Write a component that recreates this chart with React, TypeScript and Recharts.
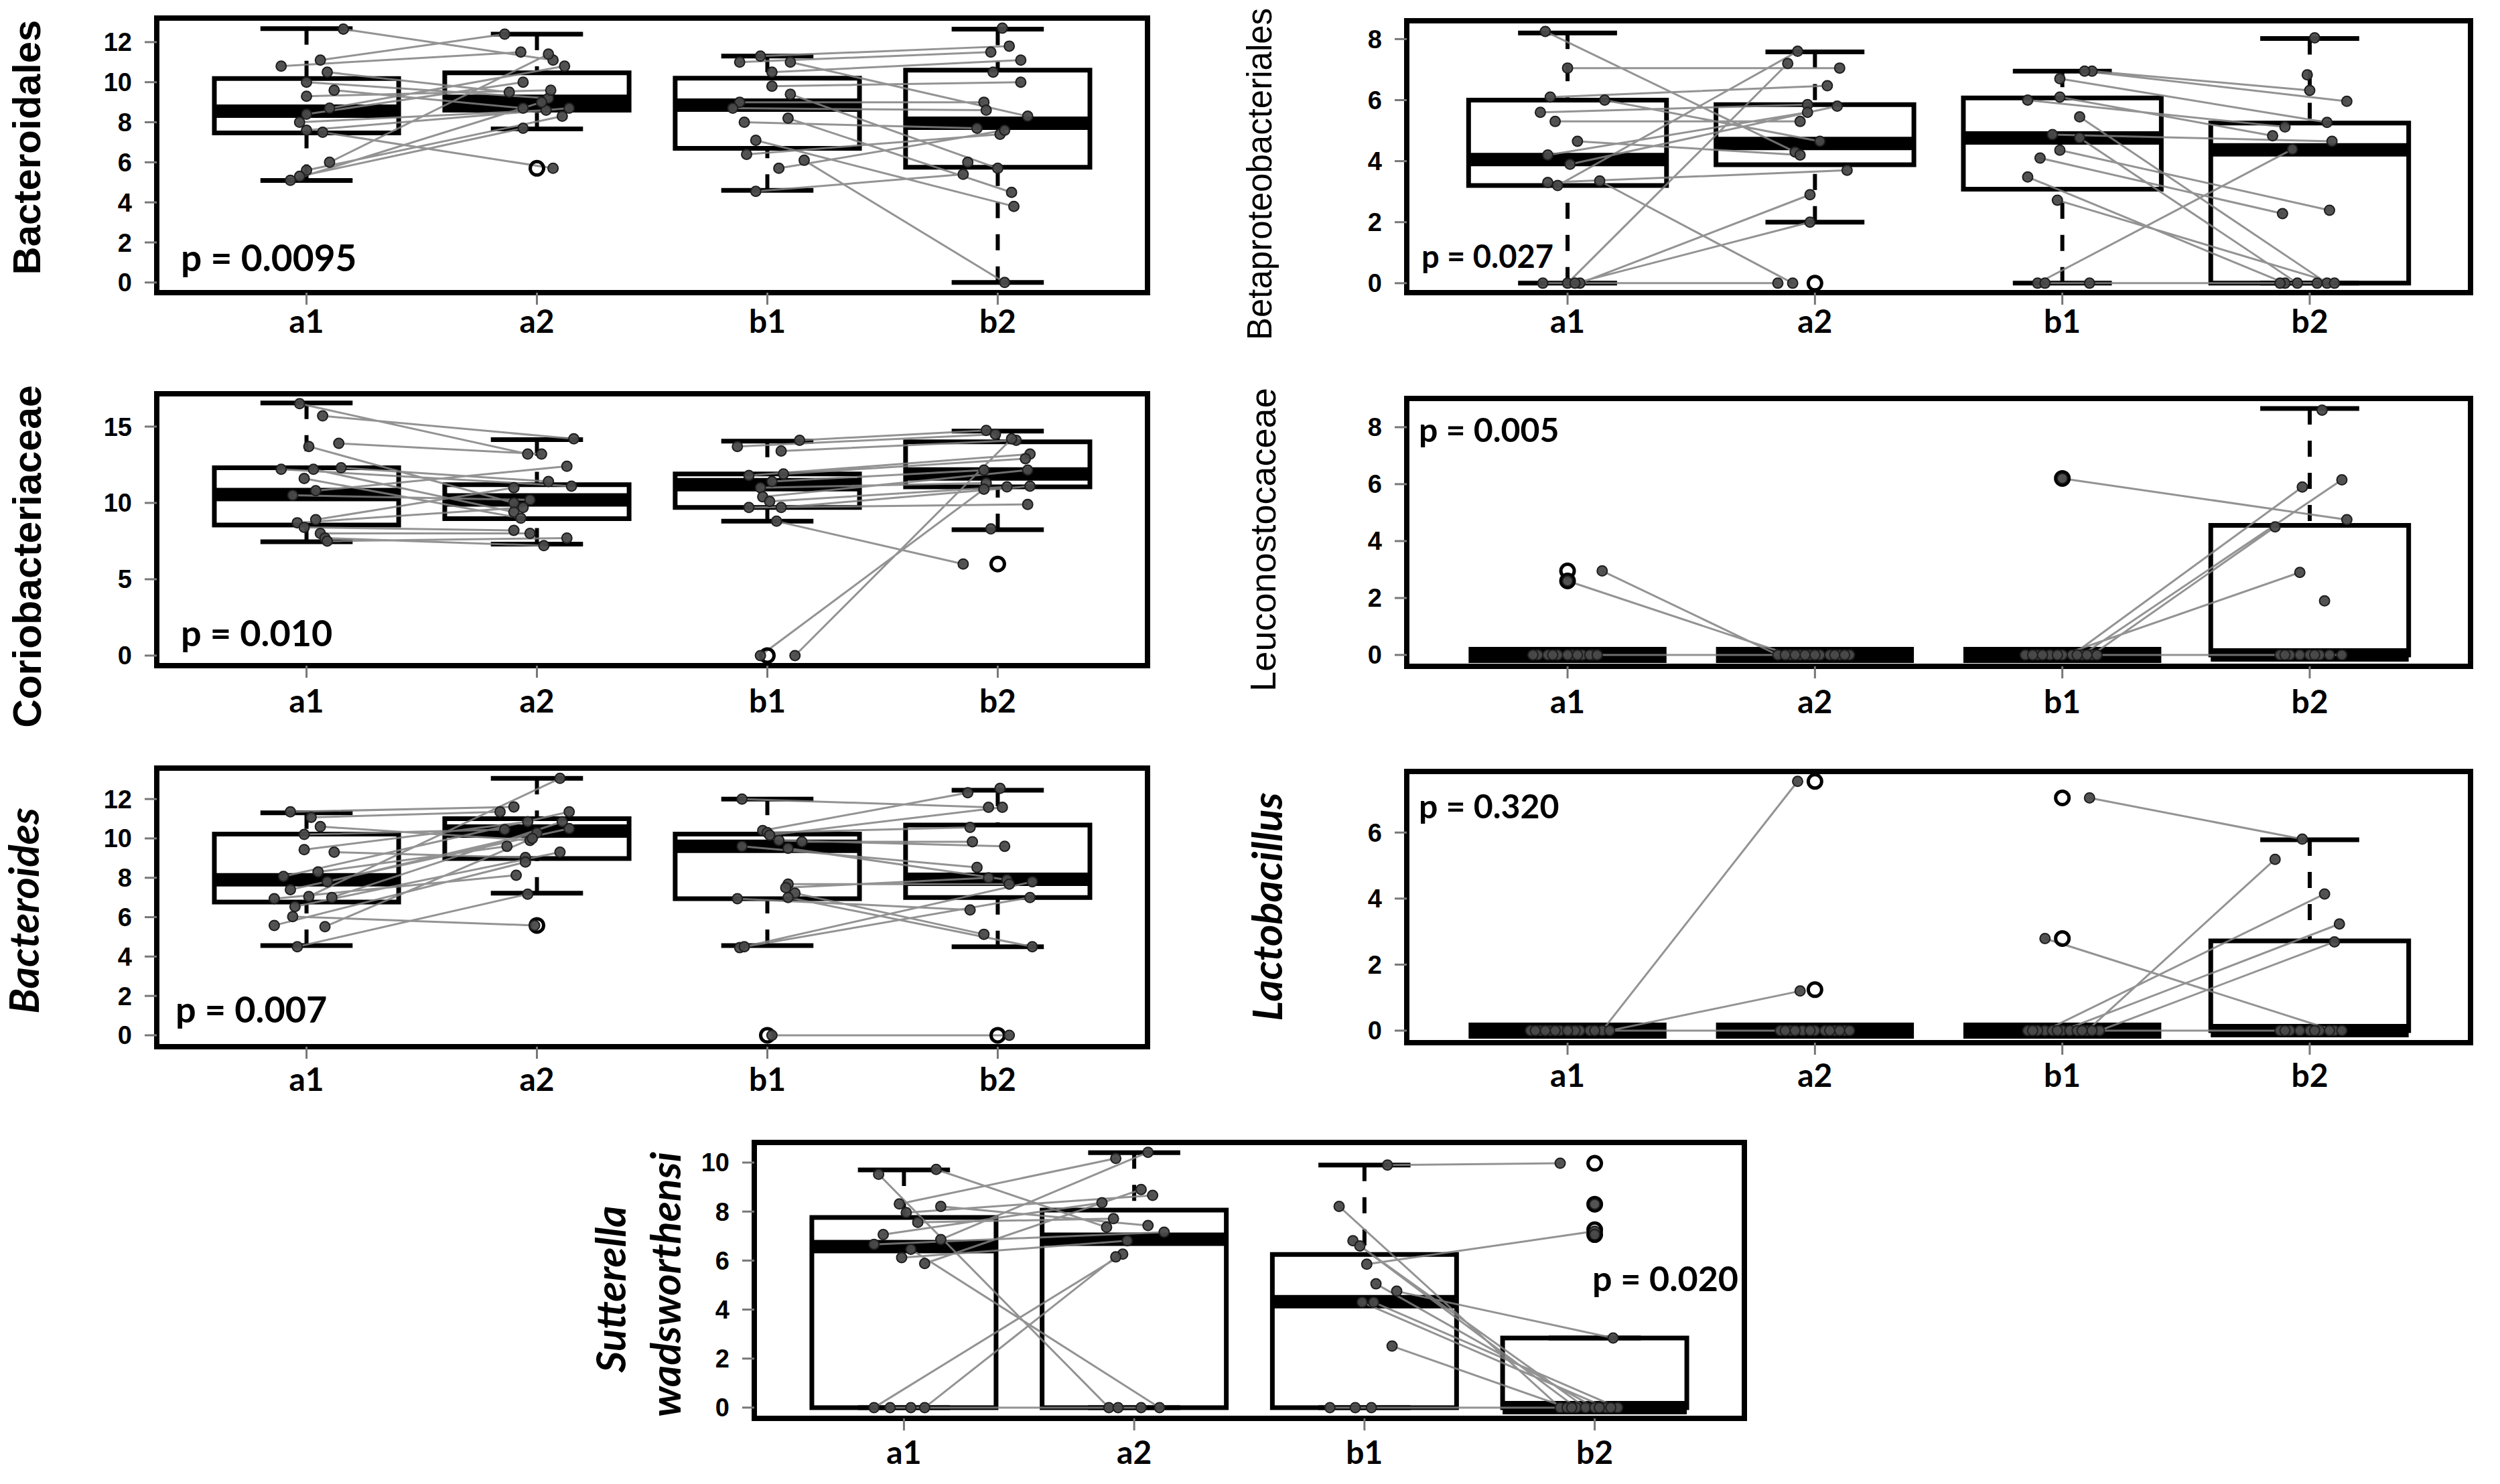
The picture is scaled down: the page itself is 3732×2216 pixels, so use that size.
import React from 'react';
import { ComposedChart, XAxis, YAxis, ReferenceArea, ReferenceLine, Line, Scatter } from 'recharts';

const GROUPS = ['a1', 'a2', 'b1', 'b2'];

// ---------- Bacteroidales ----------
const BACTEROIDALES_A1 = [12.65, 11.1, 10.8, 10.5, 10.0, 9.6, 9.3, 8.7, 8.4, 8.0, 7.6, 7.5, 6.0, 5.6, 5.3, 5.1];
const BACTEROIDALES_A2 = [11.1, 12.4, 11.5, 9.5, 9.2, 8.7, 9.6, 10.8, 10.0, 8.6, 8.7, 5.7, 11.4, 8.3, 7.7, 9.0];
const BACTEROIDALES_JA1 = [0.16, 0.06, -0.11, 0.09, 0.0, 0.12, 0.0, 0.1, 0.0, -0.03, 0.0, 0.07, 0.1, 0.0, -0.03, -0.07];
const BACTEROIDALES_JA2 = [0.07, -0.14, -0.07, -0.12, 0.05, -0.06, 0.06, 0.12, -0.06, 0.04, 0.14, 0.07, 0.05, 0.11, -0.06, 0.02];
const BACTEROIDALES_B1 = [11.3, 11.0, 11.0, 10.5, 9.8, 9.4, 9.0, 8.7, 8.2, 8.0, 7.1, 6.4, 6.1, 5.7, 4.55, null, null, null];
const BACTEROIDALES_B2 = [11.8, 11.5, 8.3, 11.1, 10.0, 5.7, 9.0, 8.6, 4.5, 7.7, 3.8, 7.4, 0, 7.6, 5.4, 12.7, 10.5, 6.0];
const BACTEROIDALES_JB1 = [-0.03, -0.12, 0.1, 0.02, 0.02, 0.1, -0.12, -0.15, 0.09, -0.1, -0.05, -0.09, 0.16, 0.05, -0.05, 0, 0, 0];
const BACTEROIDALES_JB2 = [0.05, -0.03, 0.13, 0.1, 0.1, 0.0, -0.06, -0.05, 0.06, -0.09, 0.07, 0.01, 0.03, 0.03, -0.15, 0.02, -0.02, -0.13];
const BACTEROIDALES_BOX = [[5.09, 7.47, 8.55, 10.18, 12.67], [7.67, 8.6, 9.05, 10.47, 12.4], [4.6, 6.7, 8.85, 10.2, 11.3], [0, 5.75, 7.95, 10.6, 12.65]];
const BACTEROIDALES_OUT = [[], [5.7], [], []];

// ---------- Betaproteobacteriales ----------
const BETAPROTEO_A1 = [8.25, 7.05, 6.1, 6.0, 5.6, 5.3, 4.65, 4.2, 3.9, 3.3, 3.2, 3.35, 0, 0, 0, 0];
const BETAPROTEO_A2 = [4.3, 7.05, 6.47, 4.65, 5.85, 5.3, 4.2, 5.6, 5.8, 3.7, 7.6, 0, 0, 7.2, 2.9, 2.0];
const BETAPROTEO_JA1 = [-0.09, 0, -0.07, 0.15, -0.11, -0.05, 0.04, -0.08, 0.01, -0.08, -0.04, 0.13, -0.1, 0, 0.05, 0.03];
const BETAPROTEO_JA2 = [-0.08, 0.1, 0.05, 0.02, -0.03, -0.06, -0.06, -0.03, 0.09, 0.13, -0.07, -0.09, -0.15, -0.11, -0.02, -0.02];
const BETAPROTEO_B1 = [6.95, 6.95, 6.7, 6.1, 6.0, 5.45, 4.87, 4.76, 4.36, 4.1, 3.48, 2.72, 0, 0, 0, null, null];
const BETAPROTEO_B2 = [6.32, 5.96, 5.27, 4.83, 5.12, 0, 4.65, 0, 2.39, 2.28, 0, 0, 4.39, 0, 0, 8.04, 6.83];
const BETAPROTEO_JB1 = [0.12, 0.09, -0.01, -0.01, -0.14, 0.07, -0.04, 0.07, -0.01, -0.09, -0.14, -0.02, -0.1, -0.07, 0.11, 0, 0];
const BETAPROTEO_JB2 = [0.0, 0.15, 0.07, -0.15, -0.1, 0.07, 0.09, -0.05, 0.08, -0.11, -0.1, 0.1, -0.07, -0.12, 0.03, 0.02, -0.01];
const BETAPROTEO_BOX = [[0, 3.2, 4.05, 6.0, 8.2], [2.0, 3.88, 4.58, 5.85, 7.58], [0, 3.08, 4.76, 6.07, 6.95], [0, 0, 4.37, 5.25, 8.02]];
const BETAPROTEO_OUT = [[], [0], [], []];

// ---------- Coriobacteriaceae ----------
const CORIO_A1 = [16.5, 15.7, 13.9, 13.7, 12.2, 12.3, 12.2, 11.6, 10.8, 10.5, 8.9, 8.7, 8.4, 8.0, 7.7, 7.5];
const CORIO_A2 = [13.2, 14.2, 13.2, 10.0, 11.1, 11.4, 9.4, 9.0, 12.4, 10.2, 11.0, 9.7, 8.2, 8.0, 7.2, 7.7];
const CORIO_JA1 = [-0.03, 0.07, 0.14, 0.01, -0.11, 0.15, 0.03, -0.01, 0.04, -0.06, 0.04, -0.04, -0.01, 0.06, 0.08, 0.09];
const CORIO_JA2 = [-0.04, 0.16, 0.02, -0.1, 0.15, 0.05, -0.1, -0.07, 0.13, -0.03, -0.1, -0.06, -0.1, -0.03, 0.03, 0.13];
const CORIO_B1 = [14.1, 13.7, 13.4, 11.8, 11.9, 11.4, 11.0, 10.4, 10.1, 9.7, 9.7, 8.8, 0, 0, null];
const CORIO_B2 = [14.75, 14.5, 14.1, 13.2, 12.9, 12.15, 11.3, 12.15, 11.05, 9.9, 11.1, 6.0, 10.9, 14.2, 8.3];
const CORIO_JB1 = [0.14, -0.13, 0.06, -0.08, 0.07, 0.02, -0.03, -0.02, 0.01, -0.08, 0.06, 0.04, -0.03, 0.12, 0];
const CORIO_JB2 = [-0.05, -0.01, 0.08, 0.14, 0.12, -0.06, -0.05, 0.13, 0.04, 0.13, 0.14, -0.15, -0.06, 0.06, -0.03];
const CORIO_BOX = [[7.46, 8.55, 10.55, 12.3, 16.55], [7.3, 8.97, 10.2, 11.2, 14.15], [8.8, 9.7, 11.2, 11.9, 14.05], [8.25, 11.05, 11.9, 14.0, 14.7]];
const CORIO_OUT = [[], [], [0], [6.0]];

// ---------- Leuconostocaceae ----------
const LEUCO_A1 = [2.95, 2.6, 0, 0, 0, 0, 0, 0, 0, 0, 0, 0, 0, 0];
const LEUCO_A2 = [0, 0, 0, 0, 0, 0, 0, 0, 0, 0, 0, 0, 0, 0];
const LEUCO_JA1 = [0.14, 0.0, -0.12, -0.08, -0.04, 0.02, 0.06, 0.1, -0.14, 0.0, 0.09, -0.06, 0.12, 0.04];
const LEUCO_JA2 = [-0.15, -0.1, -0.06, -0.02, 0.02, 0.06, 0.1, 0.14, -0.12, -0.04, 0.0, 0.08, 0.12, -0.08];
const LEUCO_B1 = [6.2, 0, 0, 0, 0, 0, 0, 0, 0, 0, 0, 0, 0, 0, null, null];
const LEUCO_B2 = [4.75, 5.9, 6.15, 4.5, 2.9, 0, 0, 0, 0, 0, 0, 0, 0, 0, 8.6, 1.9];
const LEUCO_JB1 = [0.0, 0.04, 0.08, 0.12, 0.0, -0.15, -0.1, -0.05, 0.06, 0.1, -0.12, -0.02, -0.08, 0.14, 0, 0];
const LEUCO_JB2 = [0.15, -0.03, 0.13, -0.14, -0.04, -0.12, -0.08, -0.04, 0.0, 0.04, 0.08, 0.13, -0.1, 0.02, 0.05, 0.06];
const LEUCO_BOX = [[0, 0, 0, 0, 0], [0, 0, 0, 0, 0], [0, 0, 0, 0, 0], [0, 0, 0, 4.55, 8.66]];
const LEUCO_OUT = [[2.95, 2.6], [], [6.2], []];

// ---------- Bacteroides ----------
const BACTEROIDES_A1 = [11.35, 11.07, 10.6, 10.2, 9.43, 9.3, 8.07, 8.3, 7.8, 7.4, 6.94, 7.05, 7.0, 6.54, 6.03, 5.58, 5.52, 4.5];
const BACTEROIDES_A2 = [11.6, 11.35, 9.9, 10.45, 10.85, 9.03, 11.35, 9.6, 10.28, 10.5, 8.13, 13.05, 10.85, 9.3, 5.58, 8.8, 10.0, 7.17];
const BACTEROIDES_JA1 = [-0.07, 0.02, 0.06, -0.01, -0.01, 0.12, -0.1, 0.05, 0.09, -0.07, -0.14, 0.01, 0.11, -0.05, -0.06, -0.14, 0.08, -0.04];
const BACTEROIDES_JA2 = [-0.1, -0.16, -0.03, -0.14, -0.04, -0.05, 0.14, -0.13, 0.0, 0.14, -0.09, 0.1, 0.11, 0.1, -0.01, -0.05, -0.02, -0.04];
const BACTEROIDES_B1 = [12.0, 10.4, 10.3, 10.17, 9.83, 9.6, 9.5, 9.9, 7.68, 7.22, 7.0, 6.94, 4.45, 4.5, 7.5, 0, null];
const BACTEROIDES_B2 = [11.58, 12.32, 10.56, 11.58, 9.83, 8.53, 7.9, 9.6, 7.68, 5.13, 4.5, 6.37, 7.8, 7.0, 8.0, 0, 12.54];
const BACTEROIDES_JB1 = [-0.11, -0.02, 0.0, 0.01, 0.15, -0.11, 0.09, 0.05, 0.09, 0.12, 0.09, -0.13, -0.12, -0.1, 0.08, 0.02, 0];
const BACTEROIDES_JB2 = [-0.04, -0.13, -0.12, 0.02, -0.11, -0.09, 0.04, 0.03, 0.05, -0.06, 0.15, -0.12, 0.15, 0.14, -0.04, 0.05, 0.01];
const BACTEROIDES_BOX = [[4.56, 6.77, 7.9, 10.22, 11.3], [7.22, 8.98, 10.37, 11.0, 13.05], [4.56, 6.94, 9.6, 10.22, 12.0], [4.5, 7.0, 7.92, 10.68, 12.45]];
const BACTEROIDES_OUT = [[], [5.58], [0], [0]];

// ---------- Lactobacillus ----------
const LACTO_A1 = [0, 0, 0, 0, 0, 0, 0, 0, 0, 0, 0, 0, 0, 0, 0];
const LACTO_A2 = [7.55, 1.2, 0, 0, 0, 0, 0, 0, 0, 0, 0, 0, 0, 0, 0];
const LACTO_JA1 = [0.14, 0.17, -0.15, -0.11, -0.07, -0.03, 0.01, 0.05, 0.09, -0.13, -0.05, 0.03, 0.11, -0.09, 0.0];
const LACTO_JA2 = [-0.07, -0.06, -0.14, -0.1, -0.05, 0.0, 0.04, 0.08, 0.12, -0.12, -0.02, 0.06, 0.1, 0.14, -0.08];
const LACTO_B1 = [7.05, 2.79, 0, 0, 0, 0, 0, 0, 0, 0, 0, 0, 0, 0, 0];
const LACTO_B2 = [5.8, 0, 5.19, 4.14, 3.23, 2.69, 0, 0, 0, 0, 0, 0, 0, 0, 0];
const LACTO_JB1 = [0.11, -0.07, 0.1, -0.07, 0.0, 0.15, -0.14, -0.1, -0.04, 0.03, 0.06, 0.12, -0.12, 0.08, -0.02];
const LACTO_JB2 = [-0.03, 0.1, -0.14, 0.06, 0.12, 0.1, -0.12, -0.08, -0.04, 0.0, 0.04, 0.08, -0.1, 0.02, 0.13];
const LACTO_BOX = [[0, 0, 0, 0, 0], [0, 0, 0, 0, 0], [0, 0, 0, 0, 0], [0, 0, 0, 2.72, 5.78]];
const LACTO_OUT = [[], [7.55, 1.24], [7.05, 2.79], []];

// ---------- Sutterella wadsworthensi ----------
const SUTTER_A1 = [9.72, 9.52, 8.31, 8.21, 7.96, 7.56, 7.06, 6.86, 6.66, 6.46, 6.12, 5.88, 0, 0, 0, 0];
const SUTTER_A2 = [7.36, 0, 10.17, 7.43, 8.66, 7.71, 8.36, 10.42, 7.16, 0, 6.81, 8.9, 6.26, 6.15, 0, 0];
const SUTTER_JA1 = [0.14, -0.11, -0.02, 0.16, 0.01, 0.06, -0.09, 0.16, -0.13, 0.03, -0.01, 0.09, -0.13, 0.09, -0.06, 0.03];
const SUTTER_JA2 = [-0.12, -0.11, -0.08, 0.06, 0.08, -0.09, -0.14, 0.06, 0.13, 0.11, -0.03, 0.03, -0.05, -0.08, -0.07, 0.03];
const SUTTER_B1 = [9.9, 8.21, 6.81, 5.85, 6.6, 5.05, 4.75, 4.3, 4.3, 2.51, 0, 0, 0, null, null];
const SUTTER_B2 = [9.97, 0, 0, 7.2, 0, 0, 2.84, 0, 0, 0, 0, 0, 0, 8.3, 7.06];
const SUTTER_JB1 = [0.1, -0.11, -0.05, 0.01, -0.02, 0.05, 0.14, -0.01, 0.04, 0.12, -0.15, -0.04, 0.03, 0, 0];
const SUTTER_JB2 = [-0.15, -0.15, -0.08, 0.0, -0.04, 0.0, 0.08, 0.05, 0.1, -0.12, 0.02, -0.1, 0.07, 0.0, 0.0];
const SUTTER_BOX = [[0, 0, 6.57, 7.76, 9.7], [0, 0, 6.87, 8.06, 10.4], [0, 0, 4.32, 6.25, 9.9], [0, 0, 0, 2.84, 2.84]];
const SUTTER_OUT = [[], [], [], [9.97, 8.3, 7.26, 7.06]];

const P_VALUES = ['p = 0.0095', 'p = 0.027', 'p = 0.010', 'p = 0.005', 'p = 0.007', 'p = 0.320', 'p = 0.020'];

type Num = number | null;
type PanelDef = {
  frame: [number, number, number, number];
  yDomain: [number, number];
  yTicks: number[];
  labelGap: number;
  vals: Num[][];
  jit: number[][];
  box: number[][];
  out: number[][];
};

const PANELS: PanelDef[] = [
  { frame: [234, 27, 1713, 437], yDomain: [-0.507, 13.2], yTicks: [0, 2, 4, 6, 8, 10, 12], labelGap: 26,
    vals: [BACTEROIDALES_A1, BACTEROIDALES_A2, BACTEROIDALES_B1, BACTEROIDALES_B2],
    jit: [BACTEROIDALES_JA1, BACTEROIDALES_JA2, BACTEROIDALES_JB1, BACTEROIDALES_JB2],
    box: BACTEROIDALES_BOX, out: BACTEROIDALES_OUT },
  { frame: [2100, 31, 3688, 437], yDomain: [-0.31, 8.6], yTicks: [0, 2, 4, 6, 8], labelGap: 26,
    vals: [BETAPROTEO_A1, BETAPROTEO_A2, BETAPROTEO_B1, BETAPROTEO_B2],
    jit: [BETAPROTEO_JA1, BETAPROTEO_JA2, BETAPROTEO_JB1, BETAPROTEO_JB2],
    box: BETAPROTEO_BOX, out: BETAPROTEO_OUT },
  { frame: [234, 588, 1713, 994], yDomain: [-0.66, 17.15], yTicks: [0, 5, 10, 15], labelGap: 36,
    vals: [CORIO_A1, CORIO_A2, CORIO_B1, CORIO_B2],
    jit: [CORIO_JA1, CORIO_JA2, CORIO_JB1, CORIO_JB2],
    box: CORIO_BOX, out: CORIO_OUT },
  { frame: [2100, 595, 3688, 995], yDomain: [-0.4, 9.01], yTicks: [0, 2, 4, 6, 8], labelGap: 36,
    vals: [LEUCO_A1, LEUCO_A2, LEUCO_B1, LEUCO_B2],
    jit: [LEUCO_JA1, LEUCO_JA2, LEUCO_JB1, LEUCO_JB2],
    box: LEUCO_BOX, out: LEUCO_OUT },
  { frame: [234, 1147, 1713, 1563], yDomain: [-0.58, 13.57], yTicks: [0, 2, 4, 6, 8, 10, 12], labelGap: 32,
    vals: [BACTEROIDES_A1, BACTEROIDES_A2, BACTEROIDES_B1, BACTEROIDES_B2],
    jit: [BACTEROIDES_JA1, BACTEROIDES_JA2, BACTEROIDES_JB1, BACTEROIDES_JB2],
    box: BACTEROIDES_BOX, out: BACTEROIDES_OUT },
  { frame: [2100, 1152, 3688, 1557], yDomain: [-0.365, 7.85], yTicks: [0, 2, 4, 6], labelGap: 32,
    vals: [LACTO_A1, LACTO_A2, LACTO_B1, LACTO_B2],
    jit: [LACTO_JA1, LACTO_JA2, LACTO_JB1, LACTO_JB2],
    box: LACTO_BOX, out: LACTO_OUT },
  { frame: [1126, 1706, 2604, 2118], yDomain: [-0.44, 10.82], yTicks: [0, 2, 4, 6, 8, 10], labelGap: 34,
    vals: [SUTTER_A1, SUTTER_A2, SUTTER_B1, SUTTER_B2],
    jit: [SUTTER_JA1, SUTTER_JA2, SUTTER_JB1, SUTTER_JB2],
    box: SUTTER_BOX, out: SUTTER_OUT },
];

// text placement (page coords): [x, baseline, fontSize]
const P_POS: [number, number, number][] = [[270, 405, 55], [2122, 400, 47], [270, 965, 54], [2118, 660, 50], [262, 1527, 54], [2118, 1222, 50], [2377, 1928, 52]];
const TITLES: { text: string; bx: number; cy: number; fs: number; italic: boolean; bold: boolean }[] = [
  { text: 'Bacteroidales', bx: 60, cy: 220, fs: 58, italic: false, bold: true },
  { text: 'Betaproteobacteriales', bx: 1898, cy: 260, fs: 51, italic: false, bold: false },
  { text: 'Coriobacteriaceae', bx: 61, cy: 831, fs: 59, italic: false, bold: true },
  { text: 'Leuconostocaceae', bx: 1904, cy: 806, fs: 54, italic: false, bold: false },
  { text: 'Bacteroides', bx: 58, cy: 1360, fs: 62, italic: true, bold: true },
  { text: 'Lactobacillus', bx: 1914, cy: 1354, fs: 62, italic: true, bold: true },
  { text: 'Sutterella', bx: 934, cy: 1925, fs: 62, italic: true, bold: true },
  { text: 'wadsworthensi', bx: 1016, cy: 1918, fs: 62, italic: true, bold: true },
];

const ARIAL = "'Liberation Sans', Arial, sans-serif";
const CALIBRI = "Lato, 'Open Sans', sans-serif";
const X_DOMAIN: [number, number] = [0.35, 4.65];

const Dot = (props: any) => {
  if (props.cx == null || props.cy == null) return <g />;
  return <circle cx={props.cx} cy={props.cy} r={7.5} fill="#4a4a4a" fillOpacity={0.95} stroke="#1e1e1e" strokeWidth={2} />;
};
const OpenCircle = (props: any) => {
  if (props.cx == null || props.cy == null) return <g />;
  return <circle cx={props.cx} cy={props.cy} r={10} fill="none" stroke="#000" strokeWidth={5} />;
};

function Panel({ p }: { p: PanelDef }) {
  const [fx0, fy0, fx1, fy1] = p.frame;
  const YW = 140, MT = 20, MR = 20, XH = 110;
  const width = fx1 - fx0 + YW + MR;
  const height = fy1 - fy0 + MT + XH;

  const points: { x: number; y: number }[] = [];
  for (let g = 0; g < 4; g++) {
    p.vals[g].forEach((v, i) => {
      if (v != null) points.push({ x: g + 1 + p.jit[g][i], y: v });
    });
  }
  const lineData = (ga: number, gb: number) => {
    const out: { x: number; y: number | null }[] = [];
    p.vals[ga].forEach((v, i) => {
      const w = p.vals[gb][i];
      if (v != null && w != null) {
        const xa = ga + 1 + p.jit[ga][i];
        const xb = gb + 1 + p.jit[gb][i];
        out.push({ x: xa, y: v });
        out.push({ x: xb, y: w });
        out.push({ x: xb, y: null });
      }
    });
    return out;
  };
  const outliers = p.out.flatMap((arr, g) => arr.map((v) => ({ x: g + 1, y: v })));

  const boxEls: React.ReactNode[] = [];
  p.box.forEach((b, g) => {
    const c = g + 1;
    const [mn, q1, md, q3, mx] = b;
    if (mn < q1) {
      boxEls.push(<ReferenceLine key={`lw${g}`} segment={[{ x: c, y: mn }, { x: c, y: q1 }]} stroke="#000" strokeWidth={6} strokeDasharray="24 24" ifOverflow="visible" />);
    }
    if (mx > q3) {
      boxEls.push(<ReferenceLine key={`uw${g}`} segment={[{ x: c, y: mx }, { x: c, y: q3 }]} stroke="#000" strokeWidth={6} strokeDasharray="24 24" ifOverflow="visible" />);
    }
    boxEls.push(<ReferenceLine key={`lc${g}`} segment={[{ x: c - 0.2, y: mn }, { x: c + 0.2, y: mn }]} stroke="#000" strokeWidth={7} ifOverflow="visible" />);
    boxEls.push(<ReferenceLine key={`uc${g}`} segment={[{ x: c - 0.2, y: mx }, { x: c + 0.2, y: mx }]} stroke="#000" strokeWidth={7} ifOverflow="visible" />);
    if (q3 > q1) {
      boxEls.push(<ReferenceArea key={`bx${g}`} x1={c - 0.4} x2={c + 0.4} y1={q1} y2={q3} fill="#fff" fillOpacity={1} stroke="#000" strokeWidth={7} strokeOpacity={1} ifOverflow="visible" />);
    }
    boxEls.push(<ReferenceLine key={`md${g}`} segment={[{ x: c - 0.4, y: md }, { x: c + 0.4, y: md }]} stroke="#000" strokeWidth={q3 > q1 ? 20 : 24} ifOverflow="visible" />);
  });

  return (
    <div style={{ position: 'absolute', left: fx0 - YW, top: fy0 - MT }}>
      <ComposedChart width={width} height={height} margin={{ top: MT, right: MR, bottom: 0, left: 0 }}>
        <XAxis
          type="number"
          dataKey="x"
          domain={X_DOMAIN}
          ticks={[1, 2, 3, 4]}
          interval={0}
          allowDataOverflow
          tickFormatter={(v: number) => GROUPS[Math.round(v) - 1]}
          axisLine={false}
          tickLine={{ stroke: '#777', strokeWidth: 3 }}
          tickSize={18}
          tickMargin={p.labelGap - 18}
          height={XH}
          tick={{ fontSize: 48, fontWeight: 700, fill: '#000', fontFamily: CALIBRI }}
        />
        <YAxis
          type="number"
          dataKey="y"
          domain={p.yDomain}
          ticks={p.yTicks}
          interval={0}
          allowDataOverflow
          axisLine={false}
          tickLine={{ stroke: '#777', strokeWidth: 3 }}
          tickSize={18}
          tickMargin={19}
          width={YW}
          tick={{ fontSize: 38, fontWeight: 700, fill: '#000', fontFamily: ARIAL }}
        />
        {boxEls}
        <ReferenceArea x1={X_DOMAIN[0]} x2={X_DOMAIN[1]} y1={p.yDomain[0]} y2={p.yDomain[1]} fill="none" stroke="#000" strokeWidth={8} ifOverflow="visible" />
        <Line data={lineData(0, 1)} dataKey="y" type="linear" stroke="#808080" strokeOpacity={0.85} strokeWidth={3} dot={false} activeDot={false} connectNulls={false} isAnimationActive={false} />
        <Line data={lineData(2, 3)} dataKey="y" type="linear" stroke="#808080" strokeOpacity={0.85} strokeWidth={3} dot={false} activeDot={false} connectNulls={false} isAnimationActive={false} />
        <Scatter data={outliers} dataKey="y" shape={OpenCircle} isAnimationActive={false} />
        <Scatter data={points} dataKey="y" shape={Dot} isAnimationActive={false} />
      </ComposedChart>
    </div>
  );
}

export default function App() {
  return (
    <div style={{ position: 'absolute', left: 0, top: 0, width: 3732, height: 2216, background: '#fff', overflow: 'hidden' }}>
      {PANELS.map((p, i) => <Panel key={i} p={p} />)}
      <svg width={3732} height={2216} style={{ position: 'absolute', left: 0, top: 0, pointerEvents: 'none' }}>
        {P_VALUES.map((t, i) => (
          <text key={`p${i}`} x={P_POS[i][0]} y={P_POS[i][1]} fontFamily={CALIBRI} fontWeight={700} fontSize={P_POS[i][2]} fill="#000">{t}</text>
        ))}
        {TITLES.map((t, i) => (
          <text
            key={`t${i}`}
            transform={`translate(${t.bx},${t.cy}) rotate(-90)`}
            textAnchor="middle"
            fontFamily={t.italic ? CALIBRI : ARIAL}
            fontWeight={t.bold ? 700 : 400}
            fontStyle={t.italic ? 'italic' : 'normal'}
            fontSize={t.fs}
            fill="#000"
          >
            {t.text}
          </text>
        ))}
      </svg>
    </div>
  );
}
